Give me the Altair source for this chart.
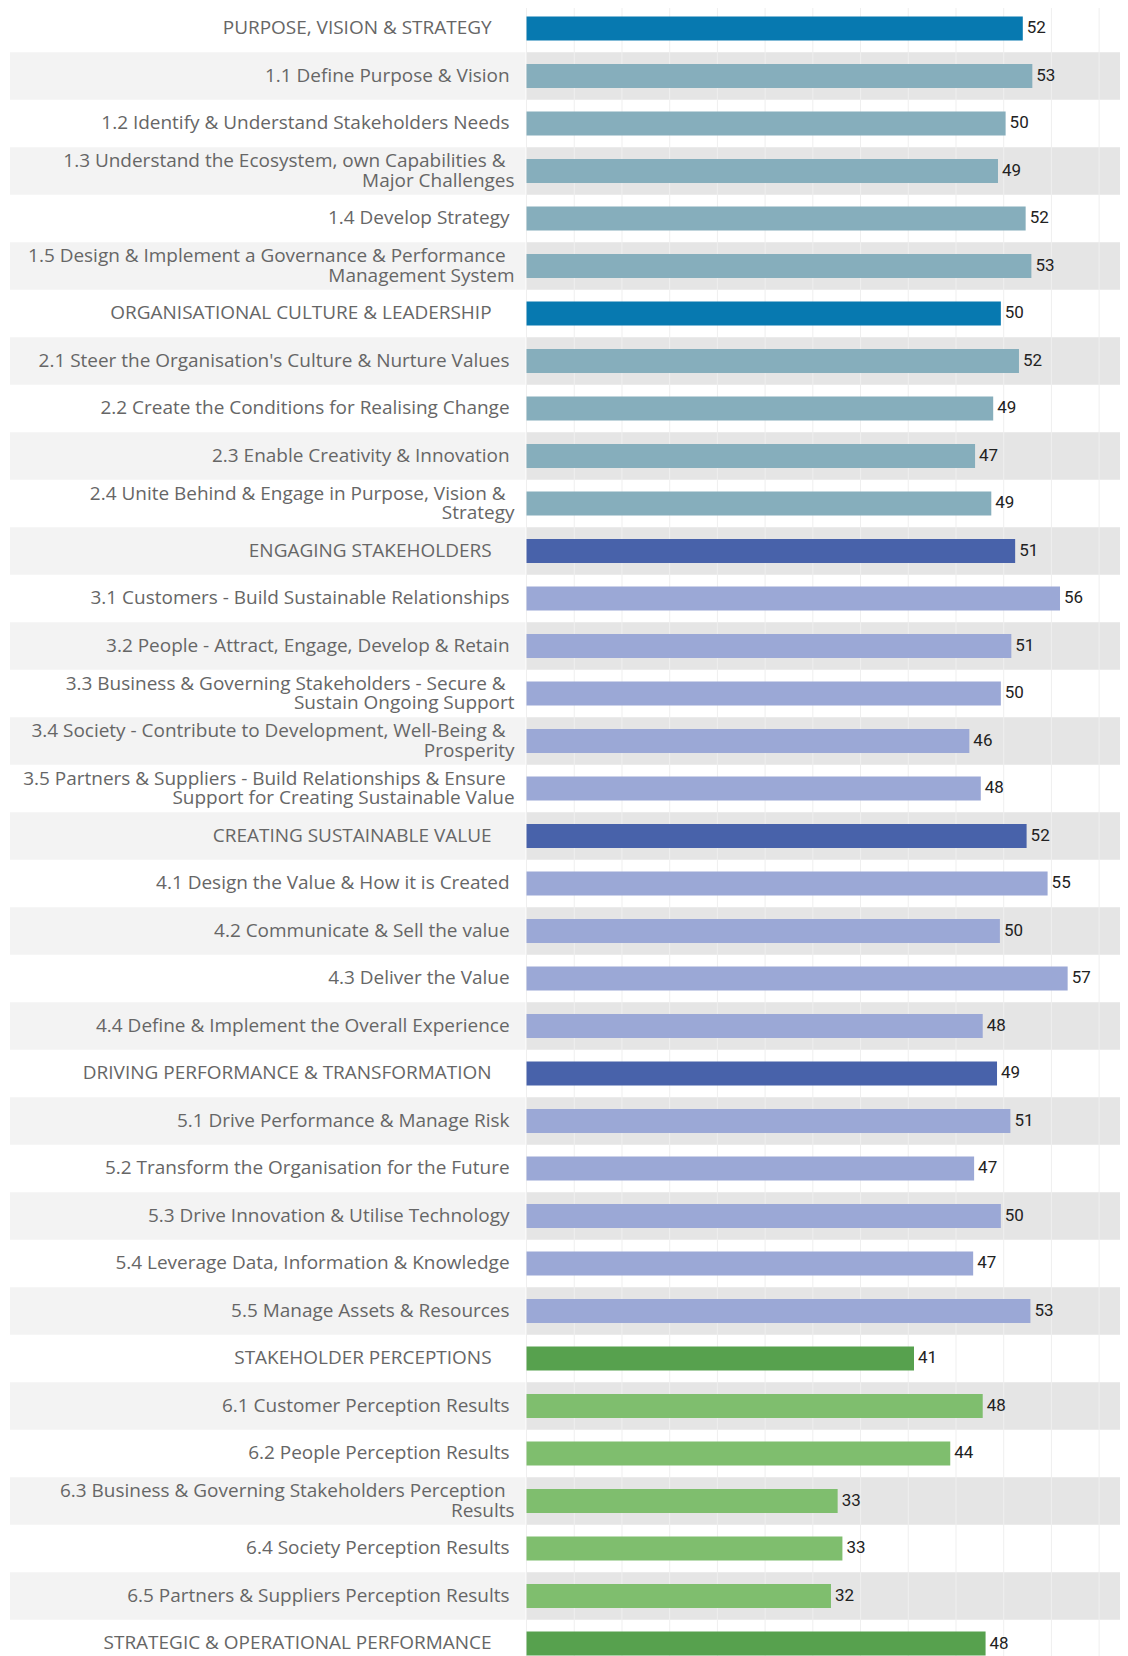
import altair as alt
import pandas as pd

LABELS = [
    "PURPOSE, VISION & STRATEGY",
    "1.1 Define Purpose & Vision",
    "1.2 Identify & Understand Stakeholders Needs",
    "1.3 Understand the Ecosystem, own Capabilities &\nMajor Challenges",
    "1.4 Develop Strategy",
    "1.5 Design & Implement a Governance & Performance\nManagement System",
    "ORGANISATIONAL CULTURE & LEADERSHIP",
    "2.1 Steer the Organisation's Culture & Nurture Values",
    "2.2 Create the Conditions for Realising Change",
    "2.3 Enable Creativity & Innovation",
    "2.4 Unite Behind & Engage in Purpose, Vision &\nStrategy",
    "ENGAGING STAKEHOLDERS",
    "3.1 Customers - Build Sustainable Relationships",
    "3.2 People - Attract, Engage, Develop & Retain",
    "3.3 Business & Governing Stakeholders - Secure &\nSustain Ongoing Support",
    "3.4 Society - Contribute to Development, Well-Being &\nProsperity",
    "3.5 Partners & Suppliers - Build Relationships & Ensure\nSupport for Creating Sustainable Value",
    "CREATING SUSTAINABLE VALUE",
    "4.1 Design the Value & How it is Created",
    "4.2 Communicate & Sell the value",
    "4.3 Deliver the Value",
    "4.4 Define & Implement the Overall Experience",
    "DRIVING PERFORMANCE & TRANSFORMATION",
    "5.1 Drive Performance & Manage Risk",
    "5.2 Transform the Organisation for the Future",
    "5.3 Drive Innovation & Utilise Technology",
    "5.4 Leverage Data, Information & Knowledge",
    "5.5 Manage Assets & Resources",
    "STAKEHOLDER PERCEPTIONS",
    "6.1 Customer Perception Results",
    "6.2 People Perception Results",
    "6.3 Business & Governing Stakeholders Perception\nResults",
    "6.4 Society Perception Results",
    "6.5 Partners & Suppliers Perception Results",
    "STRATEGIC & OPERATIONAL PERFORMANCE",
]

VALUES = [
    52.0, 53.0, 50.2, 49.4, 52.3, 52.9,
    49.7, 51.6, 48.9, 47.0, 48.7,
    51.2, 55.9, 50.8, 49.7, 46.4, 47.6,
    52.4, 54.6, 49.6, 56.7, 47.8,
    49.3, 50.7, 46.9, 49.7, 46.8, 52.8,
    40.6, 47.8, 44.4, 32.6, 33.1, 31.9,
    48.1,
]

KINDS = [
    "h1", "s1", "s1", "s1", "s1", "s1",
    "h1", "s1", "s1", "s1", "s1",
    "h2", "s2", "s2", "s2", "s2", "s2",
    "h2", "s2", "s2", "s2", "s2",
    "h2", "s2", "s2", "s2", "s2", "s2",
    "h3", "s3", "s3", "s3", "s3", "s3",
    "h3",
]

KIND_DOMAIN = ["h1", "s1", "h2", "s2", "h3", "s3"]
KIND_COLORS = ["#0779B0", "#86AEBC", "#4862AA", "#9BA8D6", "#57A14E", "#7FBE6E"]

GRID_TICKS = [0, 5, 10, 15, 20, 25, 30, 35, 40, 45, 50, 55, 60]

split = [lab.split("\n") for lab in LABELS]
df = pd.DataFrame({
    "idx": list(range(len(LABELS))),
    "line1": [p[0] for p in split],
    "line2": [p[1] if len(p) > 1 else "" for p in split],
    "nlines": [len(p) for p in split],
    "value": VALUES,
    "kind": KINDS,
})
df["header"] = df["kind"].str.startswith("h")
grid_df = pd.DataFrame({"tick": GRID_TICKS})

H = 1664
LEFT_W = 516
RIGHT_W = 594
PX_PER_UNIT = 9.552
FONT = "Open Sans"
LH = 20
LABEL_COLOR = "#666666"

y_enc = alt.Y("idx:O", axis=None,
              scale=alt.Scale(paddingInner=0, paddingOuter=0))

base = alt.Chart(df)

# ---- left panel: labels ----
left_stripes = base.transform_filter("datum.idx % 2 == 1").mark_rect(
    color="#f3f3f3"
).encode(y=y_enc, x=alt.value(0), x2=alt.value(LEFT_W))

text_style = dict(align="right", baseline="middle", font=FONT, fontSize=19,
                  color=LABEL_COLOR)

head_labels = base.transform_filter("datum.header").mark_text(
    **text_style
).encode(y=y_enc, x=alt.value(482), text="line1:N")

sub_one = base.transform_filter("!datum.header && datum.nlines == 1").mark_text(
    **text_style
).encode(y=y_enc, x=alt.value(500), text="line1:N")

sub_first = base.transform_filter("!datum.header && datum.nlines == 2").mark_text(
    dy=-LH / 2, **text_style
).encode(y=y_enc, x=alt.value(496), text="line1:N")

sub_second = base.transform_filter("!datum.header && datum.nlines == 2").mark_text(
    dy=LH / 2, **text_style
).encode(y=y_enc, x=alt.value(505), text="line2:N")

left = alt.layer(left_stripes, head_labels, sub_one, sub_first, sub_second).properties(
    width=LEFT_W, height=H
)

# ---- right panel: bars ----
x_scale = alt.Scale(domain=[0, RIGHT_W / PX_PER_UNIT], nice=False, zero=True)

right_stripes = base.transform_filter("datum.idx % 2 == 1").mark_rect(
    color="#e5e5e5"
).encode(y=y_enc, x=alt.value(0), x2=alt.value(RIGHT_W))

grid = alt.Chart(grid_df).mark_rule(color="#efefef", strokeWidth=1).encode(
    x=alt.X("tick:Q", scale=x_scale, axis=None)
)

bars = base.mark_bar(height=alt.RelativeBandSize(0.505)).encode(
    y=y_enc,
    x=alt.X("value:Q", scale=x_scale, axis=None),
    color=alt.Color("kind:N", scale=alt.Scale(domain=KIND_DOMAIN, range=KIND_COLORS),
                    legend=None),
)

vals = base.mark_text(
    align="left", baseline="middle", dx=4, font="Roboto", fontSize=17,
    color="#222222"
).encode(
    y=y_enc,
    x=alt.X("value:Q", scale=x_scale, axis=None),
    text=alt.Text("value:Q", format=".0f"),
)

right = alt.layer(right_stripes, grid, bars, vals).properties(
    width=RIGHT_W, height=H
)

chart = alt.hconcat(left, right, spacing=0).properties(
    padding={"left": 2, "top": -5, "right": 0, "bottom": 0}
).configure_view(stroke=None).configure_concat(spacing=0)

chart.save("out.html", embed_options={"renderer": "svg", "actions": False})
